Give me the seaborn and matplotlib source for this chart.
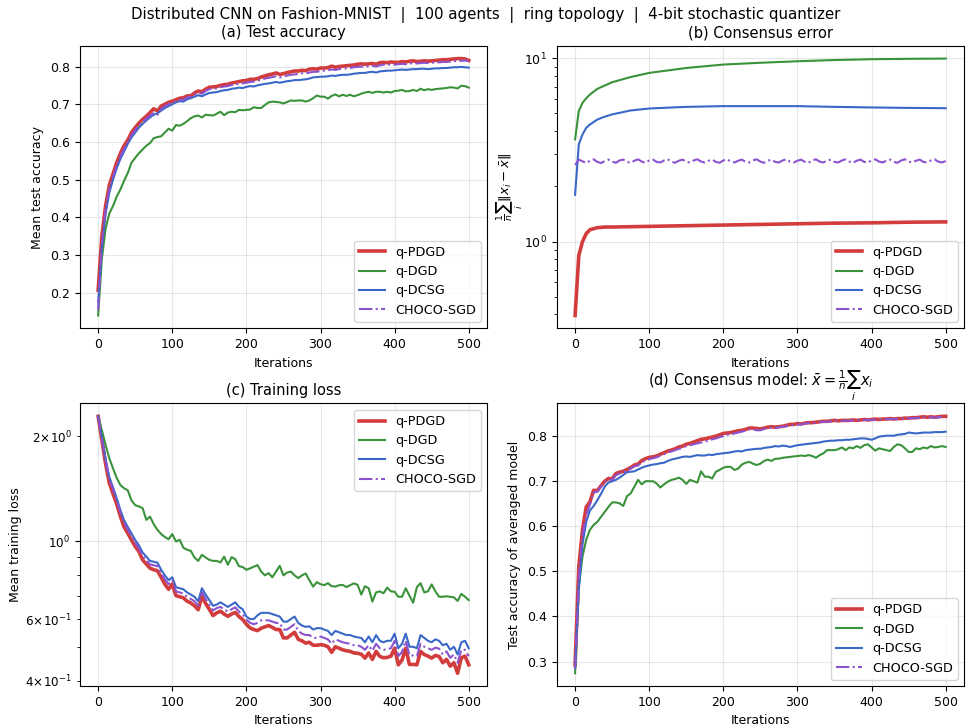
import numpy as np
import matplotlib
matplotlib.use("Agg")
import matplotlib.pyplot as plt
from matplotlib.ticker import FuncFormatter
import seaborn as sns


# iterations (every 5 steps) and a sparse grid for the smooth consensus curves
iters = np.arange(0, 501, 5)
iters_b = [0, 5, 10, 15, 20, 30, 40, 50, 75, 100, 150, 200, 250, 300, 350, 400, 450, 500]

methods = ["q-PDGD", "q-DGD", "q-DCSG", "CHOCO-SGD"]

# (a) mean test accuracy
acc_pdgd = [0.207, 0.35, 0.43, 0.485, 0.515, 0.545, 0.57, 0.59, 0.605, 0.625,
            0.638, 0.65, 0.66, 0.668, 0.678, 0.688, 0.682, 0.695, 0.70, 0.705,
            0.708, 0.712, 0.716, 0.717, 0.722, 0.722, 0.73, 0.735, 0.733, 0.74,
            0.745, 0.746, 0.747, 0.75, 0.752, 0.753, 0.756, 0.758, 0.76, 0.762,
            0.763, 0.766, 0.766, 0.768, 0.772, 0.775, 0.778, 0.78, 0.783, 0.779,
            0.781, 0.784, 0.786, 0.788, 0.788, 0.79, 0.789, 0.793, 0.794, 0.793,
            0.796, 0.796, 0.797, 0.801, 0.798, 0.80, 0.801, 0.802, 0.803, 0.804,
            0.806, 0.807, 0.806, 0.807, 0.808, 0.806, 0.81, 0.811, 0.81, 0.812,
            0.811, 0.811, 0.813, 0.812, 0.814, 0.815, 0.813, 0.814, 0.815, 0.814,
            0.815, 0.816, 0.817, 0.818, 0.818, 0.819, 0.82, 0.821, 0.821, 0.82,
            0.816]
acc_dgd = [0.14, 0.29, 0.37, 0.41, 0.43, 0.455, 0.474, 0.497, 0.518, 0.545,
           0.558, 0.57, 0.58, 0.59, 0.597, 0.61, 0.613, 0.615, 0.625, 0.635,
           0.63, 0.645, 0.643, 0.648, 0.655, 0.663, 0.668, 0.67, 0.665, 0.672,
           0.671, 0.67, 0.675, 0.68, 0.671, 0.678, 0.68, 0.679, 0.685, 0.684,
           0.685, 0.686, 0.692, 0.69, 0.69, 0.698, 0.705, 0.707, 0.706, 0.705,
           0.702, 0.706, 0.71, 0.709, 0.71, 0.71, 0.707, 0.71, 0.716, 0.723,
           0.72, 0.72, 0.715, 0.722, 0.726, 0.721, 0.725, 0.722, 0.725, 0.721,
           0.724, 0.728, 0.731, 0.733, 0.73, 0.733, 0.733, 0.731, 0.733, 0.731,
           0.735, 0.736, 0.738, 0.734, 0.735, 0.738, 0.735, 0.741, 0.737, 0.74,
           0.738, 0.74, 0.741, 0.742, 0.743, 0.745, 0.744, 0.742, 0.749, 0.748,
           0.744]
acc_dcsg = [0.176, 0.32, 0.41, 0.465, 0.50, 0.53, 0.555, 0.575, 0.595, 0.612,
            0.625, 0.638, 0.648, 0.657, 0.665, 0.672, 0.676, 0.683, 0.69, 0.695,
            0.70, 0.705, 0.708, 0.707, 0.713, 0.716, 0.72, 0.724, 0.721, 0.726,
            0.73, 0.731, 0.732, 0.735, 0.737, 0.738, 0.741, 0.742, 0.744, 0.743,
            0.746, 0.748, 0.747, 0.75, 0.752, 0.754, 0.755, 0.757, 0.759, 0.757,
            0.759, 0.761, 0.762, 0.764, 0.764, 0.765, 0.766, 0.768, 0.771, 0.772,
            0.773, 0.773, 0.774, 0.776, 0.775, 0.777, 0.778, 0.778, 0.779, 0.781,
            0.782, 0.783, 0.783, 0.785, 0.786, 0.784, 0.787, 0.788, 0.789, 0.789,
            0.79, 0.791, 0.792, 0.791, 0.792, 0.793, 0.793, 0.794, 0.794, 0.793,
            0.794, 0.795, 0.795, 0.796, 0.796, 0.797, 0.798, 0.798, 0.799, 0.798,
            0.797]
acc_choco = [0.154, 0.33, 0.42, 0.475, 0.508, 0.538, 0.562, 0.582, 0.60, 0.618,
             0.632, 0.645, 0.654, 0.662, 0.67, 0.676, 0.672, 0.688, 0.695, 0.70,
             0.704, 0.708, 0.712, 0.712, 0.718, 0.72, 0.726, 0.73, 0.728, 0.735,
             0.74, 0.741, 0.742, 0.745, 0.747, 0.748, 0.751, 0.752, 0.754, 0.755,
             0.757, 0.759, 0.76, 0.762, 0.765, 0.768, 0.77, 0.772, 0.774, 0.771,
             0.773, 0.776, 0.778, 0.779, 0.78, 0.782, 0.781, 0.784, 0.786, 0.786,
             0.788, 0.789, 0.79, 0.792, 0.791, 0.793, 0.795, 0.795, 0.796, 0.798,
             0.799, 0.80, 0.799, 0.801, 0.802, 0.80, 0.803, 0.805, 0.804, 0.806,
             0.805, 0.806, 0.807, 0.806, 0.808, 0.809, 0.808, 0.809, 0.81, 0.809,
             0.81, 0.811, 0.811, 0.812, 0.812, 0.813, 0.814, 0.815, 0.815, 0.816,
             0.814]

# (b) consensus error
cons_pdgd = [0.395, 0.84, 1.0, 1.105, 1.16, 1.19, 1.20, 1.20, 1.205, 1.21,
             1.22, 1.23, 1.24, 1.25, 1.26, 1.265, 1.275, 1.28]
cons_dgd = [3.61, 5.15, 5.71, 6.05, 6.34, 6.81, 7.1, 7.4, 7.9, 8.32,
            8.85, 9.24, 9.45, 9.63, 9.78, 9.88, 9.93, 9.96]
cons_dcsg = [1.80, 3.39, 3.84, 4.17, 4.35, 4.63, 4.8, 4.94, 5.19, 5.32,
             5.43, 5.48, 5.48, 5.48, 5.43, 5.39, 5.36, 5.34]
cons_choco = [2.62, 2.80, 2.74, 2.68, 2.76, 2.81, 2.72, 2.68, 2.75, 2.80,
              2.73, 2.69, 2.77, 2.80, 2.72, 2.69, 2.76, 2.81, 2.73, 2.69,
              2.77, 2.80, 2.72, 2.70, 2.77, 2.81, 2.73, 2.69, 2.76, 2.80,
              2.72, 2.70, 2.77, 2.81, 2.73, 2.70, 2.76, 2.80, 2.72, 2.69,
              2.77, 2.81, 2.73, 2.70, 2.76, 2.80, 2.72, 2.70, 2.77, 2.81,
              2.73, 2.69, 2.76, 2.80, 2.72, 2.70, 2.77, 2.81, 2.73, 2.70,
              2.76, 2.80, 2.72, 2.69, 2.77, 2.81, 2.73, 2.70, 2.76, 2.80,
              2.72, 2.70, 2.77, 2.81, 2.73, 2.69, 2.76, 2.80, 2.72, 2.70,
              2.77, 2.81, 2.73, 2.70, 2.76, 2.80, 2.72, 2.69, 2.77, 2.81,
              2.73, 2.70, 2.76, 2.80, 2.72, 2.70, 2.77, 2.81, 2.73, 2.70,
              2.75]

# (c) mean training loss
loss_pdgd = [2.28, 1.95, 1.67, 1.47, 1.37, 1.28, 1.18, 1.10, 1.056, 1.01,
             0.968, 0.936, 0.886, 0.862, 0.839, 0.83, 0.825, 0.79, 0.755, 0.73,
             0.755, 0.70, 0.695, 0.69, 0.675, 0.667, 0.655, 0.638, 0.697, 0.665,
             0.64, 0.614, 0.625, 0.632, 0.62, 0.611, 0.62, 0.627, 0.61, 0.598,
             0.58, 0.566, 0.56, 0.556, 0.565, 0.57, 0.575, 0.568, 0.56, 0.56,
             0.53, 0.53, 0.54, 0.55, 0.525, 0.52, 0.512, 0.515, 0.505, 0.505,
             0.507, 0.505, 0.50, 0.482, 0.50, 0.495, 0.49, 0.487, 0.485, 0.48,
             0.479, 0.476, 0.464, 0.48, 0.46, 0.485, 0.469, 0.465, 0.466, 0.47,
             0.495, 0.444, 0.458, 0.495, 0.445, 0.445, 0.444, 0.485, 0.475, 0.47,
             0.464, 0.472, 0.469, 0.45, 0.46, 0.44, 0.45, 0.42, 0.465, 0.47,
             0.444]
loss_dgd = [2.28, 2.08, 1.89, 1.73, 1.62, 1.52, 1.45, 1.42, 1.40, 1.31,
            1.27, 1.26, 1.245, 1.153, 1.178, 1.12, 1.08, 1.05, 1.03, 1.015,
            1.05, 1.0, 1.011, 0.96, 0.947, 0.94, 0.90, 0.88, 0.916, 0.90,
            0.886, 0.88, 0.88, 0.871, 0.905, 0.858, 0.902, 0.89, 0.85, 0.845,
            0.83, 0.838, 0.847, 0.856, 0.82, 0.80, 0.812, 0.79, 0.82, 0.852,
            0.80, 0.815, 0.82, 0.80, 0.786, 0.80, 0.81, 0.775, 0.743, 0.765,
            0.755, 0.75, 0.76, 0.745, 0.743, 0.75, 0.751, 0.741, 0.75, 0.759,
            0.752, 0.705, 0.745, 0.735, 0.673, 0.715, 0.72, 0.711, 0.738, 0.72,
            0.718, 0.695, 0.695, 0.735, 0.70, 0.668, 0.74, 0.76, 0.715, 0.72,
            0.754, 0.72, 0.695, 0.695, 0.697, 0.695, 0.692, 0.676, 0.708, 0.695,
            0.68]
loss_dcsg = [2.28, 1.98, 1.72, 1.53, 1.43, 1.33, 1.23, 1.15, 1.10, 1.055,
             1.01, 0.975, 0.93, 0.905, 0.88, 0.875, 0.87, 0.83, 0.80, 0.775,
             0.79, 0.74, 0.735, 0.73, 0.715, 0.705, 0.695, 0.675, 0.735, 0.705,
             0.68, 0.655, 0.66, 0.67, 0.66, 0.65, 0.66, 0.67, 0.65, 0.64,
             0.61, 0.60, 0.60, 0.615, 0.625, 0.625, 0.625, 0.62, 0.615, 0.61,
             0.59, 0.59, 0.60, 0.61, 0.585, 0.575, 0.57, 0.572, 0.56, 0.565,
             0.565, 0.56, 0.555, 0.54, 0.555, 0.55, 0.545, 0.54, 0.54, 0.535,
             0.532, 0.53, 0.515, 0.535, 0.515, 0.54, 0.52, 0.515, 0.52, 0.52,
             0.545, 0.495, 0.51, 0.545, 0.50, 0.50, 0.495, 0.54, 0.53, 0.52,
             0.515, 0.525, 0.52, 0.505, 0.51, 0.49, 0.50, 0.475, 0.515, 0.52,
             0.495]
loss_choco = [2.28, 1.97, 1.70, 1.51, 1.41, 1.31, 1.21, 1.13, 1.08, 1.035,
              0.99, 0.955, 0.91, 0.885, 0.86, 0.855, 0.85, 0.81, 0.78, 0.755,
              0.775, 0.72, 0.715, 0.71, 0.695, 0.685, 0.675, 0.655, 0.715, 0.685,
              0.66, 0.635, 0.645, 0.65, 0.64, 0.63, 0.64, 0.648, 0.63, 0.618,
              0.598, 0.585, 0.58, 0.585, 0.595, 0.595, 0.595, 0.59, 0.585, 0.585,
              0.56, 0.56, 0.57, 0.58, 0.555, 0.545, 0.54, 0.54, 0.53, 0.53,
              0.535, 0.53, 0.525, 0.51, 0.525, 0.52, 0.515, 0.512, 0.51, 0.505,
              0.505, 0.50, 0.49, 0.505, 0.487, 0.51, 0.495, 0.49, 0.492, 0.495,
              0.52, 0.47, 0.483, 0.52, 0.472, 0.472, 0.47, 0.51, 0.50, 0.495,
              0.49, 0.497, 0.494, 0.475, 0.485, 0.465, 0.475, 0.45, 0.49, 0.49,
              0.47]

# (d) test accuracy of the averaged model
avg_pdgd = [0.293, 0.51, 0.592, 0.643, 0.654, 0.68, 0.679, 0.69, 0.70, 0.706,
            0.705, 0.717, 0.72, 0.722, 0.726, 0.73, 0.736, 0.738, 0.746, 0.75,
            0.753, 0.754, 0.756, 0.76, 0.763, 0.767, 0.769, 0.772, 0.776, 0.778,
            0.782, 0.784, 0.787, 0.79, 0.793, 0.794, 0.796, 0.798, 0.80, 0.803,
            0.806, 0.807, 0.808, 0.81, 0.812, 0.813, 0.815, 0.818, 0.818, 0.817,
            0.816, 0.818, 0.82, 0.821, 0.82, 0.821, 0.822, 0.824, 0.826, 0.826,
            0.828, 0.827, 0.829, 0.83, 0.83, 0.831, 0.832, 0.833, 0.833, 0.834,
            0.835, 0.834, 0.835, 0.835, 0.835, 0.836, 0.835, 0.836, 0.837, 0.836,
            0.837, 0.838, 0.837, 0.838, 0.838, 0.839, 0.838, 0.839, 0.839, 0.84,
            0.84, 0.841, 0.841, 0.842, 0.843, 0.842, 0.843, 0.842, 0.843, 0.844,
            0.844]
avg_dgd = [0.274, 0.466, 0.533, 0.57, 0.592, 0.603, 0.61, 0.621, 0.632, 0.643,
           0.653, 0.653, 0.651, 0.645, 0.667, 0.673, 0.688, 0.703, 0.693, 0.70,
           0.70, 0.70, 0.695, 0.686, 0.693, 0.699, 0.703, 0.705, 0.708, 0.703,
           0.694, 0.703, 0.70, 0.697, 0.722, 0.71, 0.71, 0.706, 0.721, 0.725,
           0.73, 0.732, 0.732, 0.725, 0.728, 0.737, 0.741, 0.743, 0.739, 0.736,
           0.739, 0.745, 0.748, 0.745, 0.75, 0.75, 0.752, 0.753, 0.754, 0.755,
           0.756, 0.757, 0.756, 0.758, 0.756, 0.752, 0.758, 0.762, 0.769, 0.769,
           0.769, 0.771, 0.775, 0.769, 0.775, 0.773, 0.778, 0.774, 0.78, 0.782,
           0.775, 0.768, 0.773, 0.771, 0.769, 0.767, 0.776, 0.782, 0.78, 0.773,
           0.765, 0.765, 0.773, 0.771, 0.775, 0.773, 0.778, 0.775, 0.776, 0.778,
           0.776]
avg_dcsg = [0.285, 0.46, 0.56, 0.61, 0.635, 0.645, 0.658, 0.672, 0.688, 0.697,
            0.70, 0.703, 0.708, 0.714, 0.72, 0.721, 0.722, 0.726, 0.73, 0.733,
            0.735, 0.737, 0.738, 0.74, 0.741, 0.745, 0.748, 0.75, 0.752, 0.754,
            0.755, 0.754, 0.756, 0.758, 0.757, 0.757, 0.759, 0.758, 0.76, 0.761,
            0.762, 0.763, 0.764, 0.766, 0.767, 0.766, 0.769, 0.77, 0.771, 0.772,
            0.772, 0.774, 0.775, 0.776, 0.778, 0.777, 0.779, 0.778, 0.776, 0.778,
            0.78, 0.781, 0.782, 0.783, 0.784, 0.785, 0.786, 0.788, 0.789, 0.79,
            0.79, 0.791, 0.791, 0.792, 0.792, 0.793, 0.794, 0.795, 0.795, 0.794,
            0.792, 0.795, 0.799, 0.80, 0.801, 0.801, 0.801, 0.803, 0.804, 0.805,
            0.808, 0.807, 0.806, 0.807, 0.808, 0.808, 0.808, 0.809, 0.809, 0.809,
            0.81]
avg_choco = [0.285, 0.49, 0.58, 0.625, 0.648, 0.675, 0.677, 0.688, 0.698, 0.703,
             0.704, 0.713, 0.717, 0.72, 0.724, 0.728, 0.733, 0.735, 0.742, 0.746,
             0.749, 0.751, 0.753, 0.757, 0.76, 0.764, 0.766, 0.769, 0.772, 0.774,
             0.778, 0.78, 0.782, 0.784, 0.786, 0.788, 0.79, 0.793, 0.795, 0.798,
             0.80, 0.803, 0.804, 0.806, 0.808, 0.81, 0.812, 0.815, 0.815, 0.813,
             0.813, 0.816, 0.818, 0.819, 0.818, 0.82, 0.821, 0.822, 0.824, 0.825,
             0.826, 0.826, 0.828, 0.829, 0.829, 0.83, 0.831, 0.832, 0.832, 0.833,
             0.834, 0.834, 0.834, 0.835, 0.834, 0.835, 0.835, 0.835, 0.836, 0.836,
             0.836, 0.837, 0.837, 0.837, 0.838, 0.838, 0.838, 0.838, 0.839, 0.839,
             0.84, 0.84, 0.84, 0.841, 0.842, 0.842, 0.842, 0.841, 0.842, 0.843,
             0.843]

colors = {"q-PDGD": "#d23c3c", "q-DGD": "#3a923a", "q-DCSG": "#3a68c8", "CHOCO-SGD": "#8c52d0"}
widths = {"q-PDGD": 2.6, "q-DGD": 1.5, "q-DCSG": 1.5, "CHOCO-SGD": 1.5}
styles = {"q-PDGD": "-", "q-DGD": "-", "q-DCSG": "-", "CHOCO-SGD": "-."}
loss_minor_labels = [2, 4, 6]


def log_minor_label(v, pos):
    # compact "m x 10^e" labels, only for the mantissas shown in the original
    e = int(np.floor(np.log10(v) + 1e-9))
    m = int(round(v / 10 ** e))
    if m not in loss_minor_labels:
        return ""
    return rf"$\mathdefault{{{m}\!\times\!10^{{{e}}}}}$"


def draw_panel(ax, series, title, ylabel, legend_loc, log=False):
    for name, (xs, ys) in zip(methods, series):
        sns.lineplot(x=xs, y=ys, ax=ax, color=colors[name], linewidth=widths[name],
                     linestyle=styles[name], label=name)
    if log:
        ax.set_yscale("log")
    ax.set_title(title, fontsize=10.5)
    ax.set_xlabel("Iterations", fontsize=9)
    ax.set_ylabel(ylabel, fontsize=9)
    ax.tick_params(labelsize=9)
    ax.grid(True, alpha=0.3)
    ax.set_xticks([0, 100, 200, 300, 400, 500])
    ax.legend(loc=legend_loc, fontsize=9.2)


fig, axes = plt.subplots(2, 2, figsize=(9.71, 7.26), dpi=100)
fig.subplots_adjust(left=0.082, right=0.993, top=0.937, bottom=0.055, wspace=0.17, hspace=0.266)

draw_panel(axes[0, 0],
           [(iters, acc_pdgd), (iters, acc_dgd), (iters, acc_dcsg), (iters, acc_choco)],
           "(a) Test accuracy", "Mean test accuracy", "lower right")
draw_panel(axes[0, 1],
           [(iters_b, cons_pdgd), (iters_b, cons_dgd), (iters_b, cons_dcsg), (iters, cons_choco)],
           "(b) Consensus error", r"$\frac{1}{n}\sum_i \|x_i - \bar{x}\|$", "lower right", log=True)
draw_panel(axes[1, 0],
           [(iters, loss_pdgd), (iters, loss_dgd), (iters, loss_dcsg), (iters, loss_choco)],
           "(c) Training loss", "Mean training loss", "upper right", log=True)
draw_panel(axes[1, 1],
           [(iters, avg_pdgd), (iters, avg_dgd), (iters, avg_dcsg), (iters, avg_choco)],
           r"(d) Consensus model: $\bar{x} = \frac{1}{n}\sum_i x_i$",
           "Test accuracy of averaged model", "lower right")

axes[0, 1].set_ylabel(r"$\frac{1}{n}\sum_i \|x_i - \bar{x}\|$", fontsize=9.5, labelpad=-1)
axes[1, 0].yaxis.set_minor_formatter(FuncFormatter(log_minor_label))
axes[1, 0].tick_params(axis="y", which="both", labelsize=8.6)
axes[1, 0].set_ylabel("Mean training loss", fontsize=9, labelpad=2)

fig.suptitle("Distributed CNN on Fashion-MNIST  |  100 agents  |  ring topology  |  4-bit stochastic quantizer",
             fontsize=10.8, y=0.99)

plt.savefig("out.png", dpi=100)
